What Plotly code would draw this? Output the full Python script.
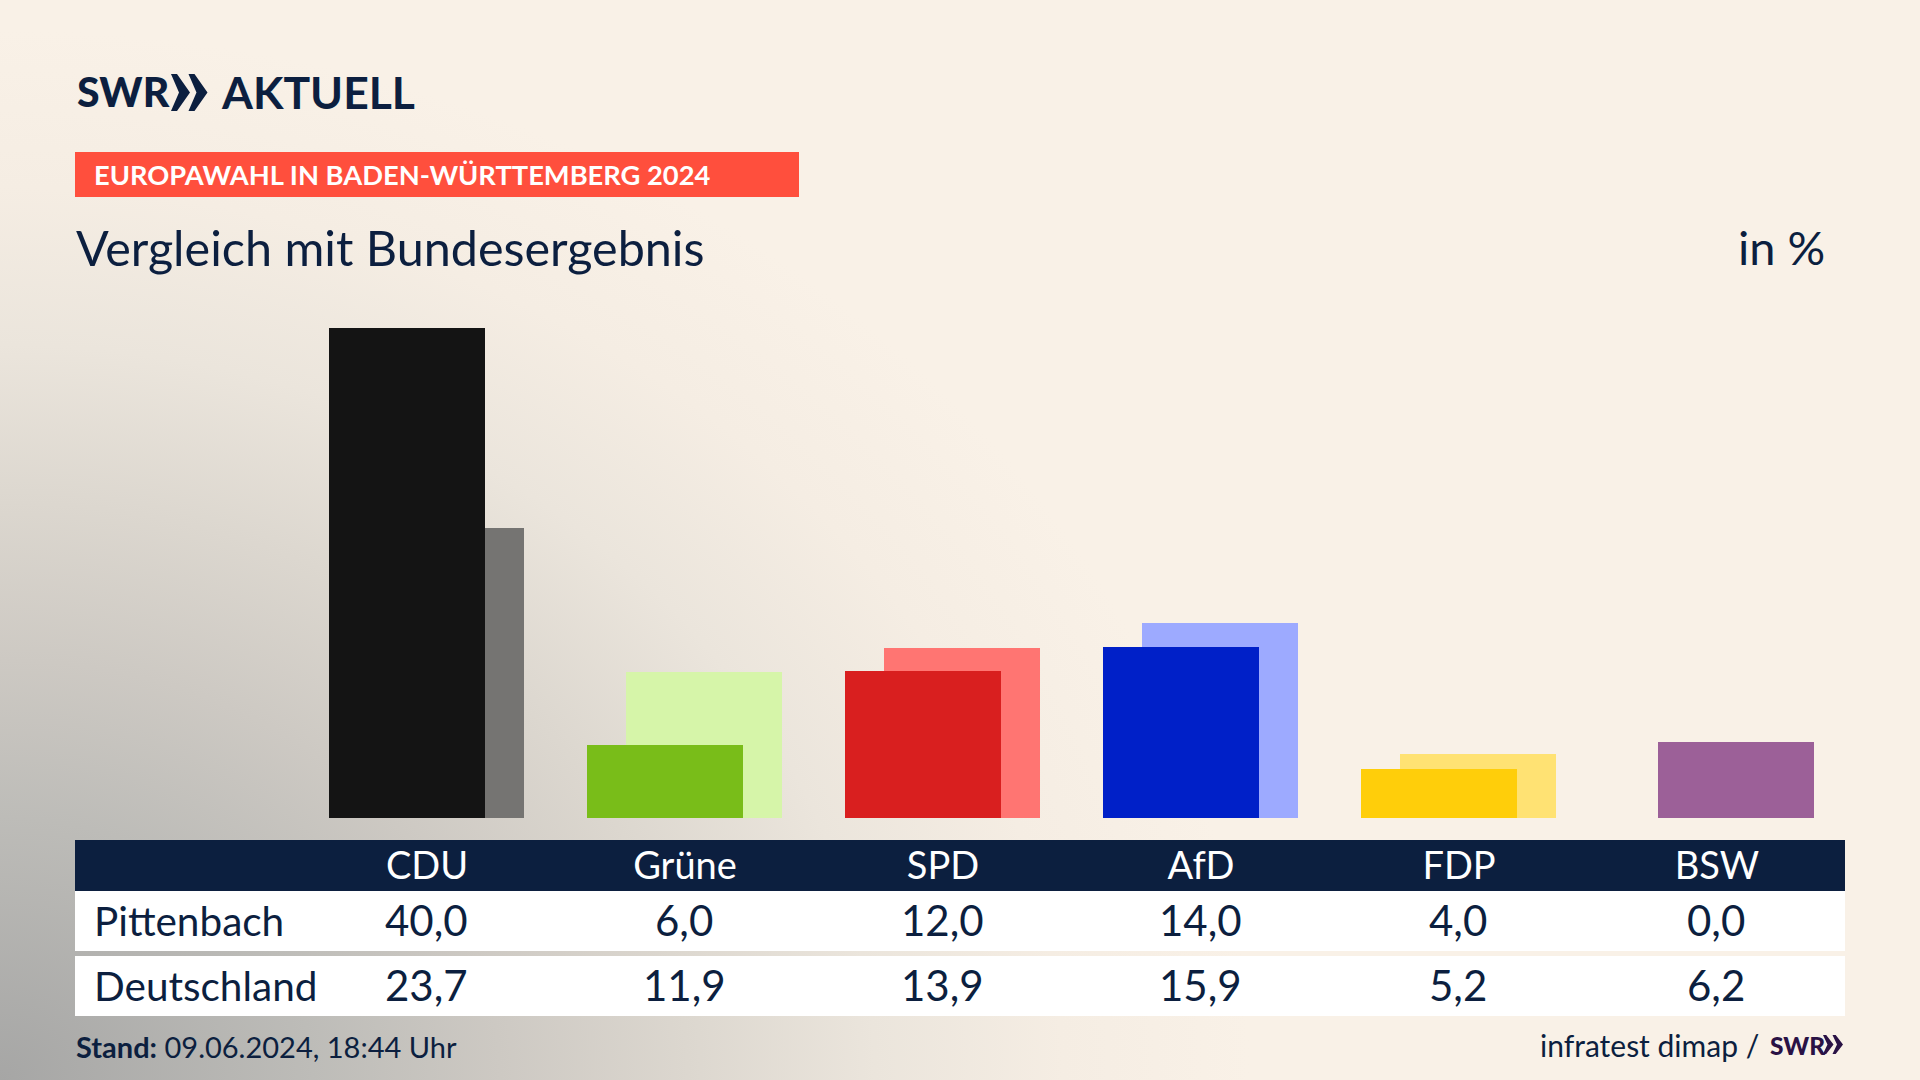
import base64
import plotly.graph_objects as go

# ---- data ----
parties = ["CDU", "Grüne", "SPD", "AfD", "FDP", "BSW"]
pittenbach = [40.0, 6.0, 12.0, 14.0, 4.0, 0.0]
deutschland = [23.7, 11.9, 13.9, 15.9, 5.2, 6.2]
row_labels = ["Pittenbach", "Deutschland"]
front_colors = ["#141414", "#79BD19", "#D91F1F", "#0020C8", "#FFCE0A", "#9C6098"]
back_colors = ["#757472", "#D6F5A9", "#FF7572", "#9DAAFF", "#FFE273", "#9C6098"]

W, H = 1920, 1080
NAVY = "#0C1F3F"
FONT = "Lato"
CREAM = "#F9F1E7"


def fx(x):
    return x / W


def fy(y):
    return 1 - y / H


def rect(x0, y0, x1, y1, color):
    return dict(type="rect", xref="paper", yref="paper", x0=fx(x0), x1=fx(x1),
                y0=fy(y1), y1=fy(y0), fillcolor=color, line_width=0, layer="below")


def chevrons(x, top, bot, w, flat, notch, gap, color):
    out = []
    mid = (top + bot) / 2
    for i in range(2):
        x0 = x + i * gap
        pts = [(x0, top), (x0 + flat, top), (x0 + w, mid), (x0 + flat, bot), (x0, bot), (x0 + notch, mid)]
        path = "M" + " L".join(f"{fx(a):.5f},{fy(b):.5f}" for a, b in pts) + " Z"
        out.append(dict(type="path", xref="paper", yref="paper", path=path,
                        fillcolor=color, line_width=0, layer="above"))
    return out


def label(x, y, text, size, color=NAVY, anchor="left", family=FONT, xref="paper", weight="normal", xshift=0):
    return dict(x=fx(x) if xref == "paper" else x, y=fy(y), xref=xref, yref="paper", text=text,
                showarrow=False, xanchor=anchor, yanchor="middle", align=anchor, xshift=xshift,
                font=dict(family=family, size=size, color=color, weight=weight), borderpad=0)


svg = f"""<svg xmlns="http://www.w3.org/2000/svg" width="{W}" height="{H}">
<defs><radialGradient id="g" gradientUnits="userSpaceOnUse" cx="0" cy="0" r="1"
 gradientTransform="translate(0 {H}) scale(1250 1050)">
<stop offset="0" stop-color="#a6a6a5"/><stop offset=".25" stop-color="#bdbcb8"/>
<stop offset=".4" stop-color="#cdc9c3"/><stop offset=".55" stop-color="#dcd7cf"/>
<stop offset=".7" stop-color="#ebe5dc"/><stop offset=".85" stop-color="#f5ede3"/>
<stop offset="1" stop-color="{CREAM}"/></radialGradient></defs>
<rect width="{W}" height="{H}" fill="url(#g)"/></svg>"""
bg = "data:image/svg+xml;base64," + base64.b64encode(svg.encode()).decode()

fmt = lambda v: f"{v:.1f}".replace(".", ",")

fig = go.Figure()
fig.add_bar(x=parties, y=deutschland, name="Deutschland", marker=dict(color=back_colors, line_width=0),
            width=156.4 / 258, offset=-59 / 258)
fig.add_bar(x=parties, y=pittenbach, name="Pittenbach", marker=dict(color=front_colors, line_width=0),
            width=156.4 / 258, offset=-98 / 258)

shapes = [
    rect(75, 152, 799, 197, "#FF4F3D"),
    rect(75, 840, 1845, 891, NAVY),
    rect(75, 891, 1845, 951, "#FFFFFF"),
    rect(75, 956, 1845, 1016, "#FFFFFF"),
]
shapes += chevrons(171, 74, 111, 19, 6, 8, 17.5, NAVY)
shapes += chevrons(1823, 1035, 1054, 10.5, 3.2, 4.5, 9.5, "#2A1245")

anns = [
    label(76, 92, "SWR", 41, weight=900),
    label(220, 92, "AKTUELL", 44.5, weight=700),
    label(93, 175, "<b>EUROPAWAHL IN BADEN-WÜRTTEMBERG 2024</b>", 27.3, color="#FFFFFF"),
    label(75, 247, "Vergleich mit Bundesergebnis", 48.5),
    label(1826, 247, "in %", 47, anchor="right"),
    label(75, 1046, "<b>Stand:</b> 09.06.2024, 18:44 Uhr", 29),
    label(1760, 1045, "infratest dimap /", 30, anchor="right"),
    label(1769, 1045, "SWR", 24.5, color="#2A1245", weight=900),
]
for i, (name, vals, yc) in enumerate(zip(row_labels, [pittenbach, deutschland], [920, 985])):
    anns.append(label(93, yc, name, 40.5))
    for p, v in zip(parties, vals):
        anns.append(label(p, yc, fmt(v), 42, anchor="center", xref="x", xshift=-1))

fig.update_layout(
    width=W, height=H, autosize=False,
    margin=dict(l=0, r=0, t=0, b=0, pad=0),
    paper_bgcolor=CREAM, plot_bgcolor="rgba(0,0,0,0)",
    barmode="overlay", showlegend=False, bargap=0,
    images=[dict(source=bg, xref="paper", yref="paper", x=0, y=1, sizex=1, sizey=1,
                 sizing="stretch", xanchor="left", yanchor="top", layer="below")],
    shapes=shapes, annotations=anns,
    xaxis=dict(domain=[298 / W, 1846 / W], type="category", categoryorder="array", categoryarray=parties,
               range=[-0.5, 5.5], showgrid=False, zeroline=False, showline=False, ticks="",
               ticklabelstandoff=22, tickfont=dict(family=FONT, size=38, color="#FFFFFF"), fixedrange=True),
    yaxis=dict(domain=[(H - 818) / H, (H - 328) / H], range=[0, 40], visible=False, fixedrange=True),
)

fig.write_html("out.html", config={"displayModeBar": False},
               post_script="document.body.style.margin='0';document.body.style.overflow='hidden';")
